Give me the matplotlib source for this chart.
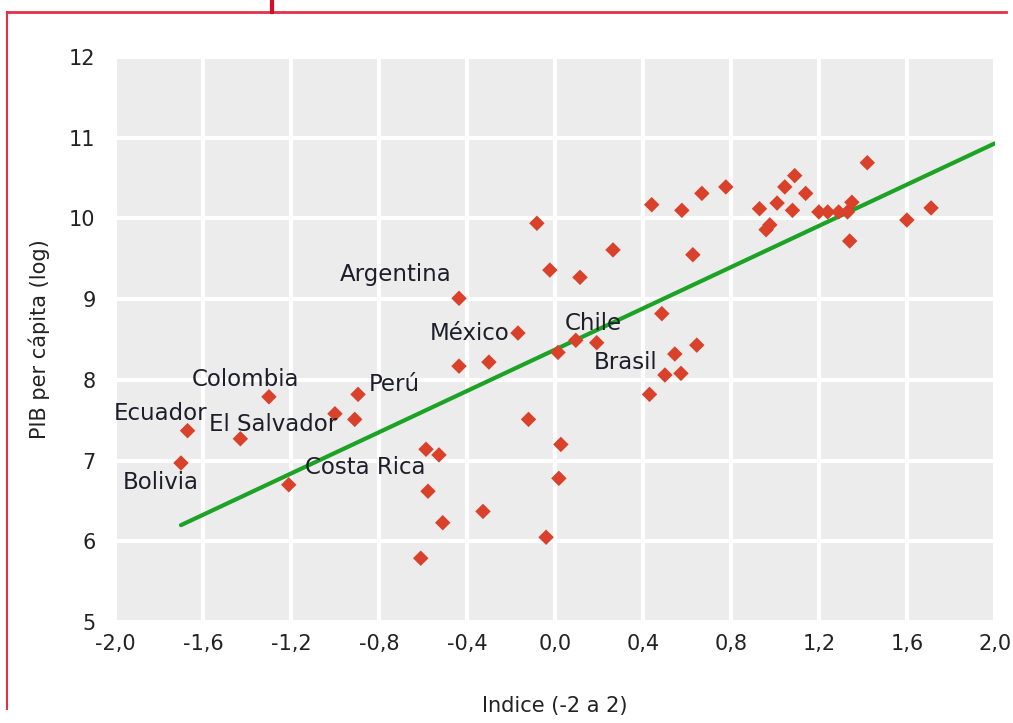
import numpy as np
import matplotlib
import matplotlib.pyplot as plt
from matplotlib.lines import Line2D
matplotlib.use('Agg')

# Indice (-2 a 2) vs PIB per capita (log)
indice = [-1.70, -1.67, -1.43, -1.30, -1.21, -1.00, -0.91, -0.895, -0.61, -0.586,
          -0.577, -0.527, -0.51, -0.436, -0.436, -0.327, -0.30, -0.168, -0.12, -0.082,
          -0.04, -0.023, 0.014, 0.018, 0.027, 0.095, 0.114, 0.19, 0.264, 0.43,
          0.44, 0.486, 0.50, 0.545, 0.573, 0.577, 0.627, 0.645, 0.668, 0.777,
          0.93, 0.96, 0.977, 1.01, 1.045, 1.09, 1.08, 1.14, 1.20, 1.24,
          1.29, 1.33, 1.34, 1.35, 1.42, 1.60, 1.71]
pib = [6.97, 7.37, 7.27, 7.79, 6.70, 7.58, 7.51, 7.82, 5.79, 7.14,
       6.62, 7.07, 6.23, 9.01, 8.17, 6.37, 8.22, 8.58, 7.51, 9.94,
       6.05, 9.36, 8.34, 6.78, 7.20, 8.49, 9.27, 8.46, 9.61, 7.82,
       10.17, 8.82, 8.06, 8.32, 8.08, 10.10, 9.55, 8.43, 10.31, 10.39,
       10.12, 9.86, 9.92, 10.19, 10.39, 10.53, 10.10, 10.31, 10.08, 10.08,
       10.08, 10.08, 9.72, 10.20, 10.69, 9.98, 10.13]

# recta de tendencia
tend_x = [-1.70, 2.0]
tend_y = [6.20, 10.93]

# etiquetas de paises (centro del texto)
paises = ['Argentina', 'México', 'Chile', 'Brasil', 'Perú', 'Colombia',
          'Ecuador', 'El Salvador', 'Bolivia', 'Costa Rica']
paises_x = [-0.723, -0.386, 0.173, 0.323, -0.73, -1.405, -1.795, -1.28, -1.79, -0.86]
paises_y = [9.30, 8.58, 8.70, 8.22, 7.94, 8.00, 7.58, 7.45, 6.73, 6.91]

xticks = [-2.0, -1.6, -1.2, -0.8, -0.4, 0.0, 0.4, 0.8, 1.2, 1.6, 2.0]
xlabels = ['-2,0', '-1,6', '-1,2', '-0,8', '-0,4', '0,0', '0,4', '0,8', '1,2', '1,6', '2,0']
yticks = [5, 6, 7, 8, 9, 10, 11, 12]

fig = plt.figure(figsize=(10.13, 7.23), dpi=100)
ax = fig.add_axes([0.1135, 0.1397, 0.8686, 0.7815])
ax.set_facecolor('#ececec')
for s in ax.spines.values():
    s.set_visible(False)

ax.plot(tend_x, tend_y, color='#1ca326', lw=3, zorder=2, solid_capstyle='round')
ax.scatter(indice, pib, marker='D', s=62, color='#d9412b', edgecolors='none', zorder=3)

for nombre, px, py in zip(paises, paises_x, paises_y):
    ax.text(px, py, nombre, fontsize=16.5, color='#1e1e2a', ha='center', va='center', zorder=4)

ax.set_xlim(-2.0, 2.0)
ax.set_ylim(5, 12)
ax.set_xticks(xticks)
ax.set_xticklabels(xlabels)
ax.set_yticks(yticks)
ax.tick_params(length=0, labelsize=15, colors='#222222')
ax.tick_params(axis='x', pad=9)
ax.tick_params(axis='y', pad=14)
ax.grid(True, color='white', lw=3)
ax.set_axisbelow(True)
ax.set_xlabel('Indice (-2 a 2)', fontsize=15, color='#222222', labelpad=30)
ax.set_ylabel('PIB per cápita (log)', fontsize=15, color='#222222', labelpad=14)

# marco rojo del recuadro
fig.add_artist(Line2D([0.007, 0.993], [0.983, 0.983], color='#e0304a', lw=2))
fig.add_artist(Line2D([0.007, 0.007], [0.983, 0.02], color='#e0304a', lw=1.5))
fig.add_artist(Line2D([0.269, 0.269], [0.983, 1.0], color='#d0102a', lw=3))

plt.savefig('out.png', dpi=100)
